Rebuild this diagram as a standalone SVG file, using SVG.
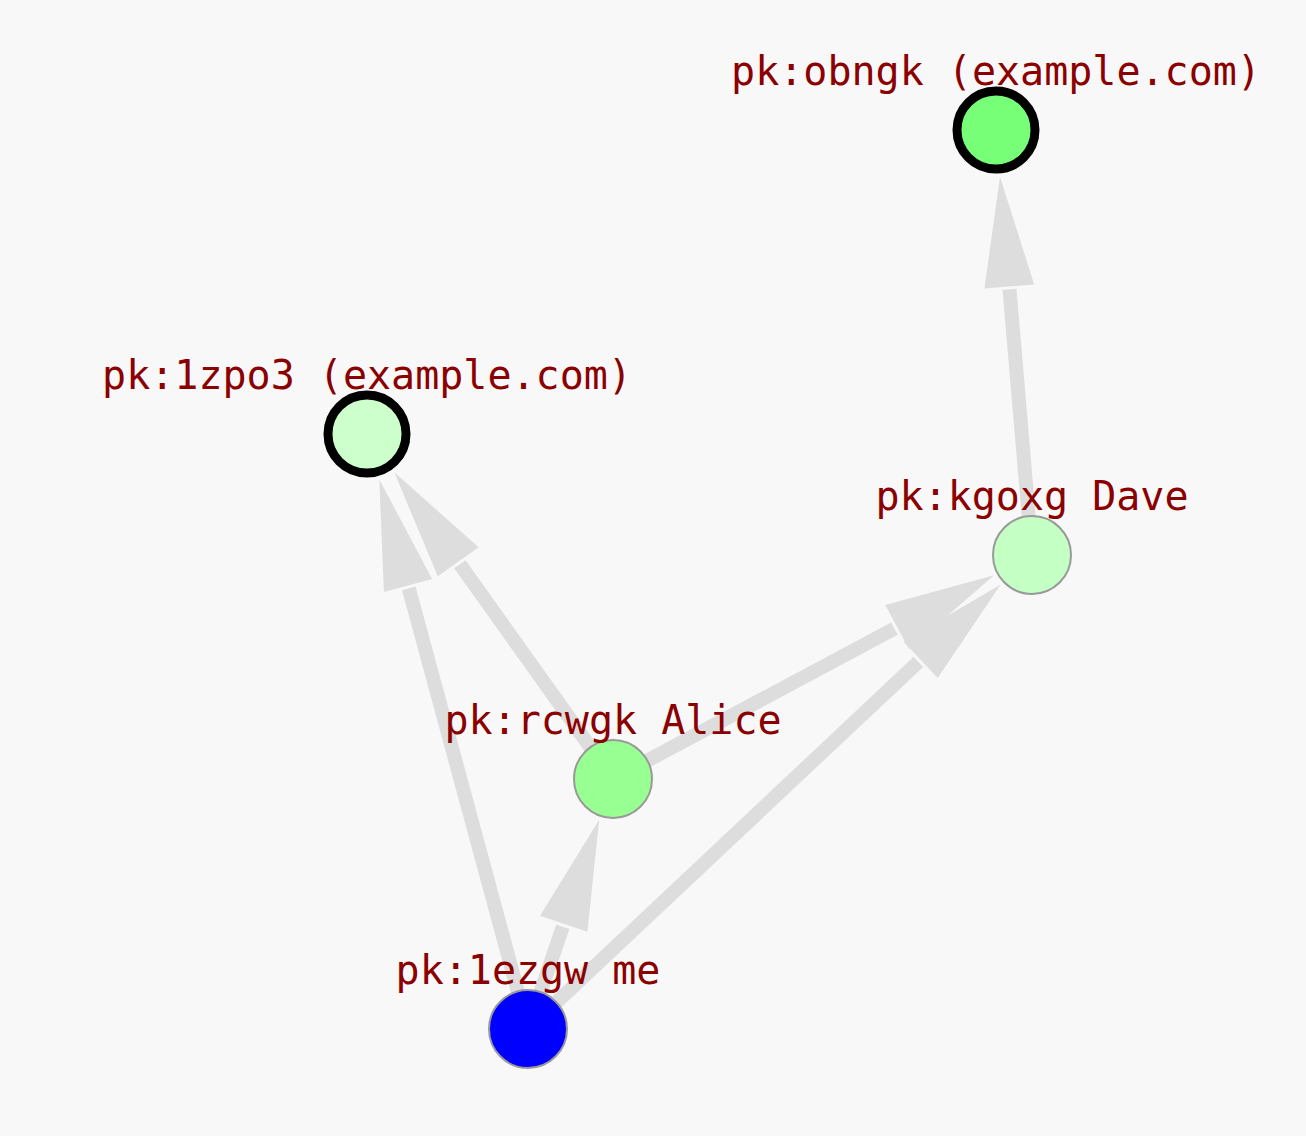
<svg xmlns="http://www.w3.org/2000/svg" width="1306" height="1136" viewBox="0 0 1306 1136">
<style>
.edge line{stroke:#dddddd;stroke-width:14;stroke-linecap:butt}
.edge polygon{fill:#dddddd;stroke:none}
.node circle{stroke:#999999;stroke-width:2}
.node circle.ring{stroke:#000000;stroke-width:9}
.node text{font-family:"DejaVu Sans Mono","Liberation Mono",monospace;font-size:40px;fill:#8b0000;text-anchor:middle}
</style>
<rect width="1306" height="1136" fill="#f8f8f8"/>
<g id="edges" class="edge">
<g id="e-me-1zpo3"><line x1="528" y1="1029" x2="408.8" y2="588.4"/><polygon points="379.3,479.4 432.1,579.1 383.9,592.1"/></g>
<g id="e-me-alice"><line x1="528" y1="1029" x2="562.8" y2="926.7"/><polygon points="599.2,819.7 587.4,931.8 540.0,915.8"/></g>
<g id="e-me-dave"><line x1="528" y1="1029" x2="918.4" y2="661.9"/><polygon points="1000.7,584.5 937.7,678.0 903.5,641.6"/></g>
<g id="e-alice-1zpo3"><line x1="613" y1="779" x2="459.9" y2="564.3"/><polygon points="394.3,472.3 478.6,547.3 437.8,576.3"/></g>
<g id="e-alice-dave"><line x1="613" y1="779" x2="894.4" y2="628.6"/><polygon points="994.1,575.3 908.9,649.1 885.3,605.1"/></g>
<g id="e-dave-obngk"><line x1="1032" y1="555" x2="1009.5" y2="289.4"/><polygon points="1000.0,176.8 1034.2,284.4 984.4,288.6"/></g>
</g>
<g id="node-obngk" class="node"><circle class="ring" cx="996" cy="130" r="39" fill="#77ff77"/><text x="996" y="85">pk:obngk (example.com)</text></g>
<g id="node-1zpo3" class="node"><circle class="ring" cx="367" cy="434" r="39" fill="#ccffcc"/><text x="367" y="389">pk:1zpo3 (example.com)</text></g>
<g id="node-dave" class="node"><circle cx="1032" cy="555" r="39" fill="#c4ffc4"/><text x="1032" y="510">pk:kgoxg Dave</text></g>
<g id="node-alice" class="node"><circle cx="613" cy="779" r="39" fill="#98ff92"/><text x="613" y="734">pk:rcwgk Alice</text></g>
<g id="node-me" class="node"><circle cx="528" cy="1029" r="39" fill="#0000ff"/><text x="528" y="984">pk:1ezgw me</text></g>
</svg>
